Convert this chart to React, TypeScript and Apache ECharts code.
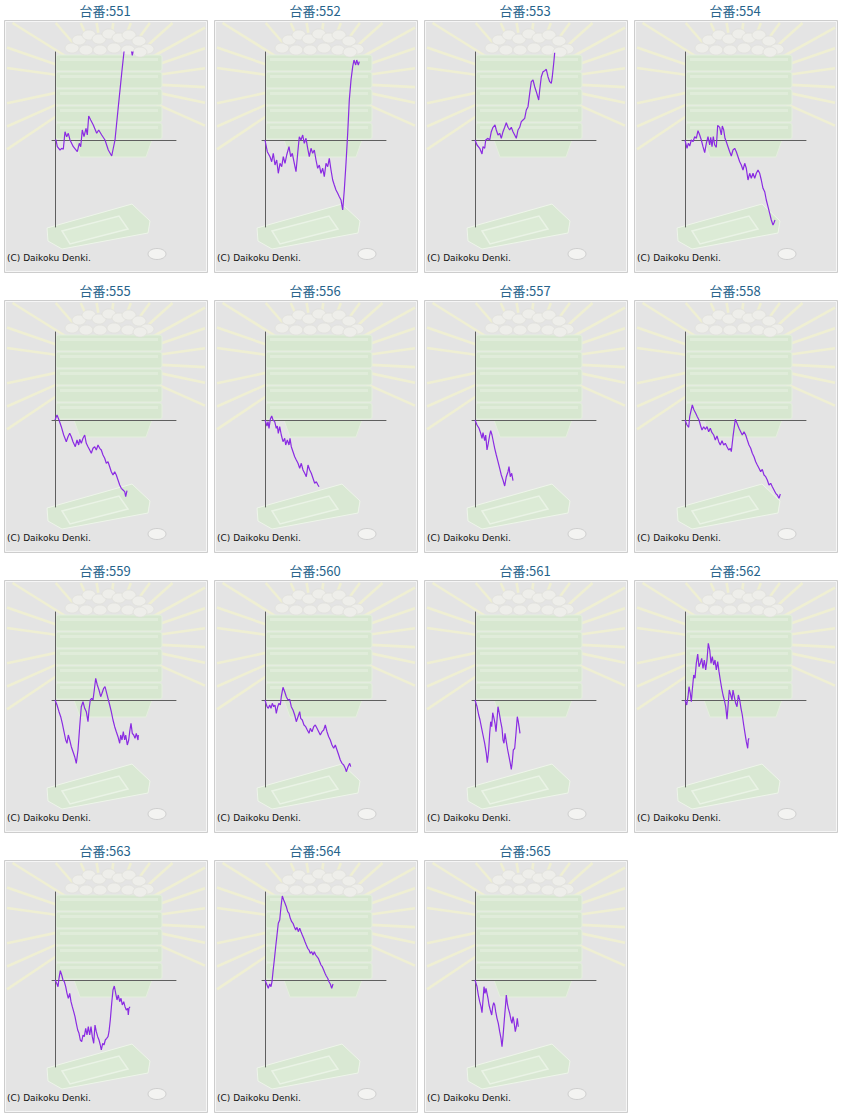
import React, { useEffect, useRef } from "react";
import * as echarts from "echarts";

// 台番 (machine numbers)
const machineNumbers = ["551", "552", "553", "554", "555", "556", "557", "558", "559", "560", "561", "562", "563", "564", "565"];

// [回転数, 差玉]
const s551 = [[0,0],[100,0],[230,-670],[500,-1000],[670,-830],[830,-930],[1000,830],[1170,330],[1330,670],[1500,0],[1830,-670],[2230,-1170],[2430,-330],[2570,-670],[2730,1000],[2900,330],[3100,1170],[3230,500],[3370,2400],[3570,2000],[3830,1500],[4170,670],[4370,1000],[4670,500],[5000,0],[5330,-1000],[5670,-1600],[6000,0],[6330,3330],[6670,6670],[6900,8830],[7170,10300],[7330,10670],[7570,9330],[7730,8470],[7900,9330]];
const s552 = [[0,0],[70,0],[230,-1170],[500,-1670],[670,-2170],[830,-1330],[1000,-2500],[1170,-2000],[1330,-3330],[1500,-2330],[1670,-2670],[1830,-1670],[2000,-2330],[2170,-1500],[2400,-670],[2570,-1670],[2730,-1330],[2930,-2330],[3100,-3170],[3270,-1330],[3430,330],[3600,0],[3770,500],[3930,-330],[4100,170],[4270,-830],[4430,-1670],[4600,-830],[4770,-1330],[4930,-1000],[5100,-2000],[5270,-2830],[5430,-2500],[5600,-3330],[5770,-2830],[5930,-3670],[6100,-2330],[6270,-2670],[6430,-1830],[6600,-3000],[6770,-4000],[6930,-4500],[7100,-5000],[7270,-5330],[7430,-5670],[7600,-6000],[7770,-7000],[7930,-5000],[8100,-2330],[8270,670],[8430,4000],[8600,6000],[8770,7330],[8900,8000],[9070,7500],[9170,8000],[9330,7500],[9430,7830]];
const s553 = [[0,0],[70,0],[200,-500],[470,-830],[700,-1400],[800,-670],[970,-830],[1070,0],[1300,170],[1470,0],[1630,830],[1800,1270],[2000,1500],[2130,1000],[2300,500],[2470,670],[2630,170],[2800,830],[2970,1270],[3130,1730],[3300,1270],[3470,1000],[3630,1270],[3800,830],[3970,500],[4130,170],[4300,1000],[4470,1270],[4630,1830],[4800,2000],[4970,2170],[5130,3000],[5300,3330],[5470,4670],[5630,5830],[5800,6000],[5970,5330],[6130,4830],[6370,4000],[6470,5000],[6630,6330],[6800,6830],[6970,6930],[7130,7070],[7300,6330],[7470,5830],[7630,5670],[7730,6330],[7870,7670],[7970,8730]];
const s554 = [[0,0],[70,0],[200,-830],[330,-330],[470,-600],[630,0],[800,-170],[970,330],[1130,170],[1300,930],[1470,500],[1630,0],[1800,-670],[1970,-1270],[2130,-330],[2300,330],[2470,-500],[2570,270],[2700,-670],[2830,330],[2970,-500],[3130,-730],[3270,1470],[3470,1270],[3630,500],[3730,1400],[3870,1000],[4000,170],[4130,-170],[4300,-670],[4470,-1170],[4630,-1600],[4800,-1000],[4970,-830],[5130,-1170],[5470,-2170],[5630,-2500],[5800,-3000],[5970,-2330],[6130,-2830],[6300,-4000],[6470,-3330],[6630,-3830],[6800,-3330],[6970,-3830],[7130,-3330],[7300,-3000],[7470,-3330],[7630,-4000],[7800,-4830],[7970,-5170],[8130,-6000],[8300,-6670],[8470,-7330],[8630,-8000],[8800,-8500],[8900,-8270],[9000,-8000]];
const s555 = [[0,0],[70,0],[200,500],[400,0],[630,-670],[870,-1500],[1130,-2170],[1300,-1670],[1470,-1330],[1630,-1670],[1800,-2170],[2030,-2670],[2200,-2000],[2370,-2500],[2470,-1930],[2630,-2330],[2800,-1830],[2970,-1500],[3130,-2330],[3300,-2670],[3470,-3000],[3630,-3330],[3800,-2830],[3970,-2670],[4130,-3000],[4300,-2500],[4470,-2830],[4630,-3000],[4800,-3500],[4970,-3830],[5130,-4330],[5300,-4170],[5470,-4670],[5630,-5170],[5800,-5500],[5970,-5170],[6130,-5500],[6300,-6000],[6470,-6500],[6630,-6830],[6800,-7000],[6970,-7170],[7070,-7670],[7200,-7070]];
const s556 = [[0,0],[70,0],[200,-600],[300,-170],[400,-830],[530,70],[670,400],[800,0],[970,-170],[1130,-830],[1230,-600],[1330,-1330],[1470,-670],[1630,-1500],[1800,-2170],[1970,-1830],[2070,-2500],[2230,-2000],[2400,-2500],[2500,-1830],[2630,-2670],[2800,-3170],[2970,-3670],[3130,-4000],[3300,-4330],[3470,-4830],[3630,-4330],[3800,-5000],[3970,-5330],[4130,-5670],[4300,-4500],[4470,-5000],[4630,-5330],[4800,-5830],[4970,-6330],[5130,-6170],[5300,-6500],[5400,-6670]];
const s557 = [[0,0],[70,0],[200,-500],[400,-830],[570,-1330],[700,-1830],[800,-1270],[970,-2070],[1070,-1500],[1200,-3000],[1300,-2500],[1470,-1500],[1570,-1070],[1700,-1500],[1800,-2000],[1970,-2830],[2130,-3500],[2300,-4170],[2470,-4830],[2630,-5500],[2800,-6000],[2970,-6600],[3130,-5670],[3300,-5170],[3400,-4670],[3530,-5670],[3670,-5330],[3800,-6070]];
const s558 = [[0,0],[70,0],[200,-500],[370,-730],[470,330],[730,1500],[900,1000],[1070,670],[1230,330],[1400,0],[1570,-600],[1700,-1000],[1870,-670],[2030,-930],[2200,-670],[2370,-1170],[2530,-830],[2700,-1270],[2870,-1500],[3030,-2000],[3200,-1600],[3370,-2170],[3530,-2500],[3700,-2070],[3870,-2500],[4030,-2330],[4200,-2670],[4370,-3000],[4530,-2830],[4630,-3170],[4800,-1670],[5030,70],[5230,-400],[5400,-830],[5570,-1170],[5730,-1500],[5900,-1170],[6070,-1500],[6230,-2000],[6400,-2500],[6570,-2830],[6730,-3330],[6900,-3670],[7070,-4170],[7230,-4500],[7400,-4830],[7570,-5170],[7730,-4930],[7900,-5500],[8070,-5670],[8230,-6000],[8400,-6500],[8570,-6330],[8730,-6670],[8900,-7000],[9070,-7330],[9230,-7500],[9400,-7830],[9530,-7400]];
const s559 = [[0,0],[70,0],[200,-500],[400,-1170],[570,-1670],[730,-2330],[900,-3170],[1070,-4000],[1200,-4330],[1330,-3500],[1470,-4000],[1630,-4670],[1800,-5170],[1970,-5670],[2130,-6330],[2300,-5000],[2470,-2670],[2630,-670],[2800,-170],[2970,-830],[3130,-1170],[3300,-2170],[3400,-1000],[3530,0],[3670,170],[3800,0],[3930,1000],[4070,2170],[4230,1500],[4400,1000],[4570,330],[4700,670],[4870,1170],[5000,1330],[5130,830],[5300,170],[5470,-500],[5630,-1170],[5800,-2000],[5970,-2670],[6130,-3170],[6300,-3670],[6470,-4330],[6570,-3500],[6700,-4000],[6830,-3170],[6970,-4000],[7070,-3500],[7230,-4500],[7370,-4000],[7470,-3170],[7600,-2330],[7730,-3330],[7870,-3500],[8000,-3830],[8130,-3330],[8300,-4000],[8330,-3500]];
const s560 = [[0,0],[70,0],[200,-670],[330,-830],[470,-500],[600,-830],[730,-330],[870,-670],[1000,-500],[1130,-1330],[1270,-670],[1400,-330],[1530,-500],[1630,330],[1800,1270],[1970,830],[2130,330],[2300,0],[2470,70],[2630,-670],[2800,-1000],[2970,-1500],[3130,-2170],[3300,-1670],[3470,-1170],[3570,-1830],[3730,-2000],[3900,-2500],[4070,-2670],[4230,-3000],[4400,-3330],[4530,-2830],[4700,-3170],[4870,-2670],[5030,-2500],[5200,-2830],[5370,-3170],[5530,-3500],[5700,-3170],[5870,-3000],[6030,-2500],[6200,-3170],[6370,-3670],[6530,-4000],[6700,-4500],[6870,-4830],[7030,-4500],[7200,-5000],[7370,-5500],[7530,-6000],[7700,-6330],[7870,-6500],[8030,-6830],[8130,-7170],[8300,-6670],[8470,-6330],[8570,-6670]];
const s561 = [[0,0],[70,0],[200,-670],[370,-1500],[500,-2000],[630,-2670],[800,-3500],[970,-4330],[1130,-5330],[1230,-6270],[1370,-5000],[1470,-3330],[1570,-2170],[1670,-2670],[1770,-1270],[1900,-1830],[2000,-2330],[2100,-3170],[2200,-2000],[2300,-670],[2430,-1330],[2570,-2170],[2700,-2830],[2800,-4000],[2900,-4330],[3000,-3330],[3130,-4170],[3270,-5000],[3400,-5670],[3530,-6330],[3630,-6930],[3730,-6170],[3830,-5000],[3970,-4830],[4100,-3330],[4230,-1670],[4330,-2170],[4430,-2830],[4500,-3330]];
const s562 = [[0,0],[70,0],[170,-500],[300,330],[400,1330],[530,670],[630,-170],[730,1000],[870,2500],[1000,2170],[1130,3670],[1270,4600],[1400,3330],[1530,3670],[1670,4170],[1800,3170],[1930,4000],[2070,3000],[2200,4000],[2330,5670],[2470,5000],[2600,3670],[2730,4330],[2870,3500],[3000,4000],[3130,3000],[3270,3830],[3400,2830],[3530,2000],[3670,1170],[3800,500],[3930,0],[4070,-670],[4200,-1930],[4300,-670],[4430,1000],[4570,500],[4700,0],[4800,1000],[4930,330],[5070,-330],[5200,-670],[5330,500],[5470,0],[5600,-830],[5730,-1500],[5870,-2500],[6000,-3330],[6130,-4170],[6270,-4830],[6330,-4000],[6400,-3830]];
const s563 = [[0,0],[70,0],[170,-330],[300,-670],[400,170],[530,930],[670,500],[800,0],[930,-170],[1070,-670],[1200,-1330],[1330,-1830],[1470,-1330],[1600,-2170],[1730,-2670],[1870,-3170],[2000,-3670],[2130,-4330],[2270,-5000],[2400,-5330],[2530,-6000],[2670,-6170],[2800,-5500],[2930,-5670],[3070,-4830],[3200,-5500],[3330,-4670],[3470,-5500],[3600,-4670],[3730,-5670],[3870,-6330],[4000,-4500],[4130,-5170],[4270,-5670],[4400,-6000],[4530,-6500],[4630,-7000],[4770,-6330],[4900,-6500],[5030,-6000],[5170,-5830],[5300,-5670],[5400,-5170],[5530,-4000],[5670,-2330],[5800,-1000],[5930,-600],[6070,-1330],[6200,-2000],[6330,-1500],[6470,-2170],[6600,-1830],[6730,-2500],[6870,-2170],[7000,-2670],[7130,-3000],[7270,-2830],[7330,-3500],[7400,-2830],[7500,-2670]];
const s564 = [[0,0],[70,0],[200,-500],[330,-830],[470,-400],[600,-670],[700,-170],[800,830],[930,2000],[1070,3330],[1200,4500],[1330,5670],[1470,6000],[1600,7330],[1730,8400],[1870,8000],[2000,7670],[2130,7330],[2270,6830],[2400,6670],[2530,6170],[2670,5830],[2800,5670],[2930,5330],[3070,5000],[3200,5270],[3330,4830],[3470,5170],[3600,4830],[3730,4500],[3870,4170],[4000,3830],[4130,3500],[4270,3170],[4400,3000],[4530,2670],[4670,2830],[4800,2500],[4930,2830],[5070,2500],[5200,2330],[5330,2170],[5470,1830],[5600,1500],[5730,1330],[5870,1000],[6000,670],[6130,400],[6270,170],[6400,-170],[6530,-400],[6670,-830],[6800,-400]];
const s565 = [[0,0],[70,0],[200,-670],[330,-1500],[470,-2170],[600,-2670],[700,-3270],[800,-2000],[900,-670],[1000,-1330],[1100,-830],[1200,-1330],[1300,-1830],[1400,-2500],[1530,-3000],[1670,-3500],[1770,-2670],[1870,-2270],[1970,-2500],[2070,-3170],[2200,-3830],[2330,-4330],[2470,-5170],[2600,-5830],[2700,-6670],[2800,-5670],[2930,-4000],[3070,-2330],[3130,-1500],[3230,-2330],[3330,-2830],[3470,-3330],[3600,-4000],[3700,-4330],[3800,-3670],[3900,-4170],[4030,-5170],[4130,-4670],[4230,-3830],[4330,-4670]];

const seriesValues = [s551, s552, s553, s554, s555, s556, s557, s558, s559, s560, s561, s562, s563, s564, s565];

const X_MIN = -300;
const X_MAX = 12100;
const Y_MIN = -8700;
const Y_MAX = 8800;

const COLS = 4;
const CELL_W = 210;
const CELL_H = 280;
const LINE_COLOR = "#8a2be2";

const RAY_ANGLES = [-172, -161, -148, -131, -114, -100, -84, -68, -54, -42, -29, -19, -8, 3, 12, 24, 146, 156, 168];
const BALLS = [
  [72, 48], [79, 40], [89, 35], [99, 39], [109, 34], [119, 38], [129, 35], [139, 41], [147, 49],
  [86, 50], [100, 50], [114, 48], [128, 50], [140, 52],
];

function rays(): any[] {
  const cx = 107, cy = 82;
  return RAY_ANGLES.map((deg) => {
    const a = (deg * Math.PI) / 180;
    const dx = Math.cos(a), dy = Math.sin(a);
    const bx = dx > 0 ? (205 - cx) / dx : (7 - cx) / dx;
    const by = dy > 0 ? (270 - cy) / dy : (23 - cy) / dy;
    const t = Math.min(Math.abs(bx), Math.abs(by));
    return {
      type: "line",
      shape: { x1: cx + dx * 50, y1: cy + dy * 50, x2: cx + dx * t, y2: cy + dy * t },
      style: { stroke: "#efefd3", lineWidth: 2.6 },
      z: 0,
    };
  });
}

function cellDecor(ox: number, oy: number, label: string): any {
  const children: any[] = [];
  children.push({
    type: "rect",
    shape: { x: 4.5, y: 20.5, width: 203, height: 252 },
    style: { fill: "#e4e4e4", stroke: "#cdcdcd", lineWidth: 1 },
    z: 0,
  });
  children.push({
    type: "rect",
    shape: { x: 5.5, y: 21.5, width: 201, height: 250 },
    style: { fill: "none", stroke: "#f6f6f6", lineWidth: 1 },
    z: 0,
  });
  children.push(...rays());
  // green stacked boxes
  for (let i = 0; i < 5; i++) {
    const y = 55 + i * 17;
    children.push({
      type: "rect",
      shape: { x: 56, y, width: 106, height: 16, r: 2 },
      style: { fill: "#d7e7d0", stroke: "#e4efde", lineWidth: 1 },
      z: 0,
    });
    children.push({
      type: "rect",
      shape: { x: 60, y: y + 3, width: 98, height: 3 },
      style: { fill: "#e0ecda" },
      z: 0,
    });
  }
  children.push({
    type: "polygon",
    shape: { points: [[74, 140], [152, 140], [146, 157], [80, 157]] },
    style: { fill: "#d7e7d0", stroke: "#e4efde", lineWidth: 1 },
    z: 0,
  });
  // balls
  BALLS.forEach(([bx, by]) => {
    children.push({
      type: "ellipse",
      shape: { cx: bx, cy: by, rx: 7, ry: 5 },
      style: { fill: "#eeeeea", stroke: "#e0e0da", lineWidth: 0.8 },
      z: 0,
    });
  });
  // tray
  children.push({
    type: "polygon",
    shape: { points: [[47, 228], [132, 204], [150, 221], [148, 233], [62, 249], [48, 241]] },
    style: { fill: "#d9e8d3", stroke: "#eef5ea", lineWidth: 1 },
    z: 0,
  });
  children.push({
    type: "polygon",
    shape: { points: [[62, 231], [119, 216], [128, 229], [70, 244]] },
    style: { fill: "#dcebd6", stroke: "#eaf3e6", lineWidth: 1.5 },
    z: 0,
  });
  // coin
  children.push({
    type: "ellipse",
    shape: { cx: 157, cy: 254, rx: 9, ry: 5.5 },
    style: { fill: "#f3f3f1", stroke: "#cfcfcf", lineWidth: 1 },
    z: 0,
  });
  children.push({
    type: "text",
    x: 7,
    y: 258,
    style: {
      text: "(C) Daikoku Denki.",
      font: '9px "DejaVu Sans"',
      fill: "#111111",
      align: "left",
      verticalAlign: "middle",
    },
    z: 1,
  });
  children.push({
    type: "text",
    x: 105,
    y: 10,
    style: {
      text: "台番:" + label,
      font: '13px "Noto Sans CJK JP"',
      fill: "#28648c",
      align: "center",
      verticalAlign: "middle",
    },
    z: 1,
  });
  return { type: "group", x: ox, y: oy, children, z: 0 };
}

function buildOption(): any {
  const grids: any[] = [];
  const xAxes: any[] = [];
  const yAxes: any[] = [];
  const series: any[] = [];
  const graphics: any[] = [];
  machineNumbers.forEach((num, i) => {
    const ox = (i % COLS) * CELL_W;
    const oy = Math.floor(i / COLS) * CELL_H;
    graphics.push(cellDecor(ox, oy, num));
    grids.push({ left: ox + 52, top: oy + 52, width: 124, height: 175, containLabel: false, show: false });
    const axisCommon = {
      gridIndex: i,
      type: "value",
      axisLine: { show: true, onZero: true, lineStyle: { color: "#5f5f5f", width: 1 } },
      axisTick: { show: false },
      axisLabel: { show: false },
      splitLine: { show: false },
      z: 10,
    };
    xAxes.push({ ...axisCommon, min: X_MIN, max: X_MAX });
    yAxes.push({ ...axisCommon, min: Y_MIN, max: Y_MAX });
    series.push({
      type: "line",
      name: num,
      xAxisIndex: i,
      yAxisIndex: i,
      data: seriesValues[i],
      showSymbol: false,
      symbol: "none",
      clip: true,
      lineStyle: { color: LINE_COLOR, width: 1.2 },
      z: 20,
    });
  });
  return {
    animation: false,
    backgroundColor: "#ffffff",
    grid: grids,
    xAxis: xAxes,
    yAxis: yAxes,
    series,
    graphic: graphics,
  };
}

export default function App() {
  const ref = useRef<HTMLDivElement>(null);
  useEffect(() => {
    if (!ref.current) return;
    const chart = echarts.init(ref.current, undefined, { renderer: "svg" });
    chart.setOption(buildOption());
    return () => chart.dispose();
  }, []);
  return (
    <div
      ref={ref}
      style={{ position: "absolute", left: 0, top: 0, width: 842, height: 1117, background: "#ffffff" }}
    />
  );
}
